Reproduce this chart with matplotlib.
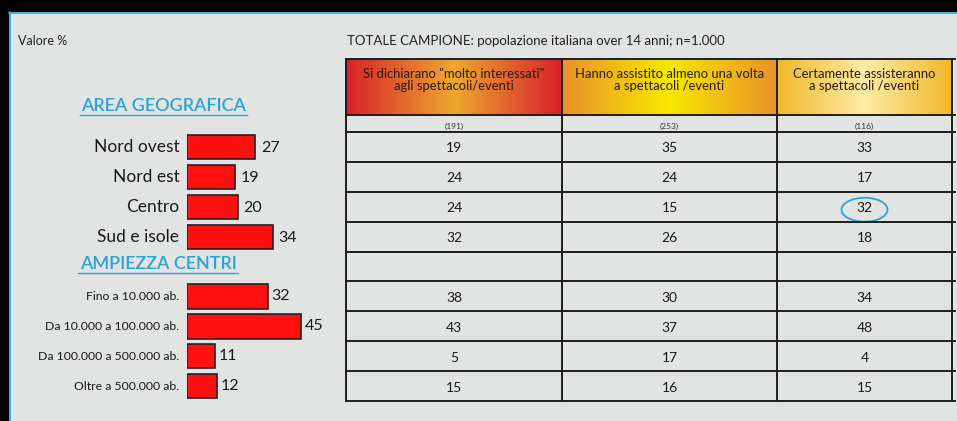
import matplotlib.pyplot as plt
import numpy as np
from matplotlib.colors import LinearSegmentedColormap
from matplotlib.patches import Ellipse

plt.rcParams['font.family'] = ['Lato', 'DejaVu Sans']

# data
geo_labels = ['Nord ovest', 'Nord est', 'Centro', 'Sud e isole']
geo_values = [27, 19, 20, 34]
size_labels = ['Fino a 10.000 ab.', 'Da 10.000 a 100.000 ab.',
               'Da 100.000 a 500.000 ab.', 'Oltre a 500.000 ab.']
size_values = [32, 45, 11, 12]

col_headers = ['Si dichiarano "molto interessati"\nagli spettacoli/eventi',
               'Hanno assistito almeno una volta\na spettacoli /eventi',
               'Certamente assisteranno\na spettacoli /eventi']
col_n = ['(191)', '(253)', '(116)']
geo_table = [[19, 35, 33], [24, 24, 17], [24, 15, 32], [32, 26, 18]]
size_table = [[38, 30, 34], [43, 37, 48], [5, 17, 4], [15, 16, 15]]

W, H = 957, 421
BG = '#e2e3e3'
BLUE = '#2aa3d8'
LINE = '#1e1e1e'


def box(x0, y0, x1, y1):
    return [x0 / W, 1 - y1 / H, (x1 - x0) / W, (y1 - y0) / H]


fig = plt.figure(figsize=(W / 100, H / 100), dpi=100)
fig.patch.set_facecolor('black')

# main pixel axes
ax = fig.add_axes([0, 0, 1, 1])
ax.set_xlim(0, W)
ax.set_ylim(H, 0)
ax.axis('off')
ax.add_patch(plt.Rectangle((9, 12), W, H, facecolor=BG, edgecolor='none'))
ax.plot([9, W], [12.5, 12.5], color=BLUE, lw=1.2)
ax.plot([9.5, 9.5], [12, H], color=BLUE, lw=1.2)

ax.text(18, 41, 'Valore %', fontsize=9, color='#222222', va='center')
ax.text(347, 41, 'TOTALE CAMPIONE: popolazione italiana over 14 anni; n=1.000',
        fontsize=9.5, color='#222222', va='center')

# table geometry (pixels)
tx = [346, 562, 777, 952]
head_top, head_bot, n_bot, body_bot = 59, 115, 132, 401

grads = [('#d8202a', '#eda830'), ('#e8922a', '#f8e800'), ('#f1b82a', '#fdeba6')]
for j in range(3):
    edge, mid = grads[j]
    cmap = LinearSegmentedColormap.from_list('g%d' % j, [edge, mid, edge])
    grad = np.linspace(0, 1, 256).reshape(1, -1)
    ax.imshow(grad, cmap=cmap, aspect='auto',
              extent=(tx[j], tx[j + 1], head_bot, head_top), zorder=1)
    ax.text((tx[j] + tx[j + 1]) / 2, 80, col_headers[j], fontsize=9.4,
            color='#2a1a10', ha='center', va='center', linespacing=1.1, zorder=3)
    ax.text((tx[j] + tx[j + 1]) / 2, 126, col_n[j], fontsize=6,
            color='#333333', ha='center', va='center', zorder=3)
ax.set_xlim(0, W)
ax.set_ylim(H, 0)

for y in [head_top, head_bot, n_bot]:
    ax.plot([tx[0], 955], [y, y], color=LINE, lw=1.4, zorder=4)
for x in tx:
    ax.plot([x, x], [head_top, body_bot], color=LINE, lw=1.4, zorder=4)

# table body: x in pixels, rows in index units
tab = fig.add_axes(box(tx[0], n_bot, tx[-1], body_bot))
tab.set_xlim(tx[0], tx[-1])
tab.set_ylim(9, 0)
tab.axis('off')
col_mid = [(tx[j] + tx[j + 1]) / 2 for j in range(3)]
rows = geo_table + [None] + size_table
for i, r in enumerate(rows):
    tab.plot([tx[0], 955], [i + 1, i + 1], color=LINE, lw=1.4, clip_on=False)
    if r is None:
        continue
    for j, v in enumerate(r):
        tab.text(col_mid[j], i + 0.55, str(v), fontsize=10, color='#1a1a1a',
                 ha='center', va='center')
# highlight circle
tab.add_patch(Ellipse((col_mid[2], 2.6), 46, 0.8, fill=False,
                      edgecolor=BLUE, lw=1.3))

# bars, same row units
bx0 = 187
bar = fig.add_axes(box(bx0, n_bot, bx0 + 2.53 * 50, body_bot))
bar.set_xlim(0, 50)
bar.set_ylim(9, 0)
bar.axis('off')
geo_y = np.arange(len(geo_values)) + 0.5
size_y = np.arange(len(size_values)) + 5.5
bar.barh(geo_y, geo_values, height=0.8, color='#ff1111',
         edgecolor='#222222', lw=1.2)
bar.barh(size_y, size_values, height=0.82, color='#ff1111',
         edgecolor='#222222', lw=1.2)
for y, v, lab in zip(geo_y, geo_values, geo_labels):
    bar.text(v + 2.2, y + 0.05, str(v), fontsize=11.5, color='#1a1a1a', va='center')
    bar.text(-3, y, lab, fontsize=12.5, color='#1a1a1a', va='center', ha='right')
for y, v, lab in zip(size_y, size_values, size_labels):
    bar.text(v + 1.5, y, str(v), fontsize=11.5, color='#1a1a1a', va='center')
    bar.text(-3, y, lab, fontsize=8.8, color='#1a1a1a', va='center', ha='right')

# section titles
for label, y, x0, x1 in [('AREA GEOGRAFICA', 106, 80, 247),
                         ('AMPIEZZA CENTRI', 264, 78, 238)]:
    ax.text((x0 + x1) / 2, y, label, fontsize=13, color=BLUE,
            ha='center', va='center', fontweight='semibold')
    ax.plot([x0, x1], [y + 9, y + 9], color=BLUE, lw=1)

fig.savefig('out.png', dpi=100, facecolor=fig.get_facecolor())
